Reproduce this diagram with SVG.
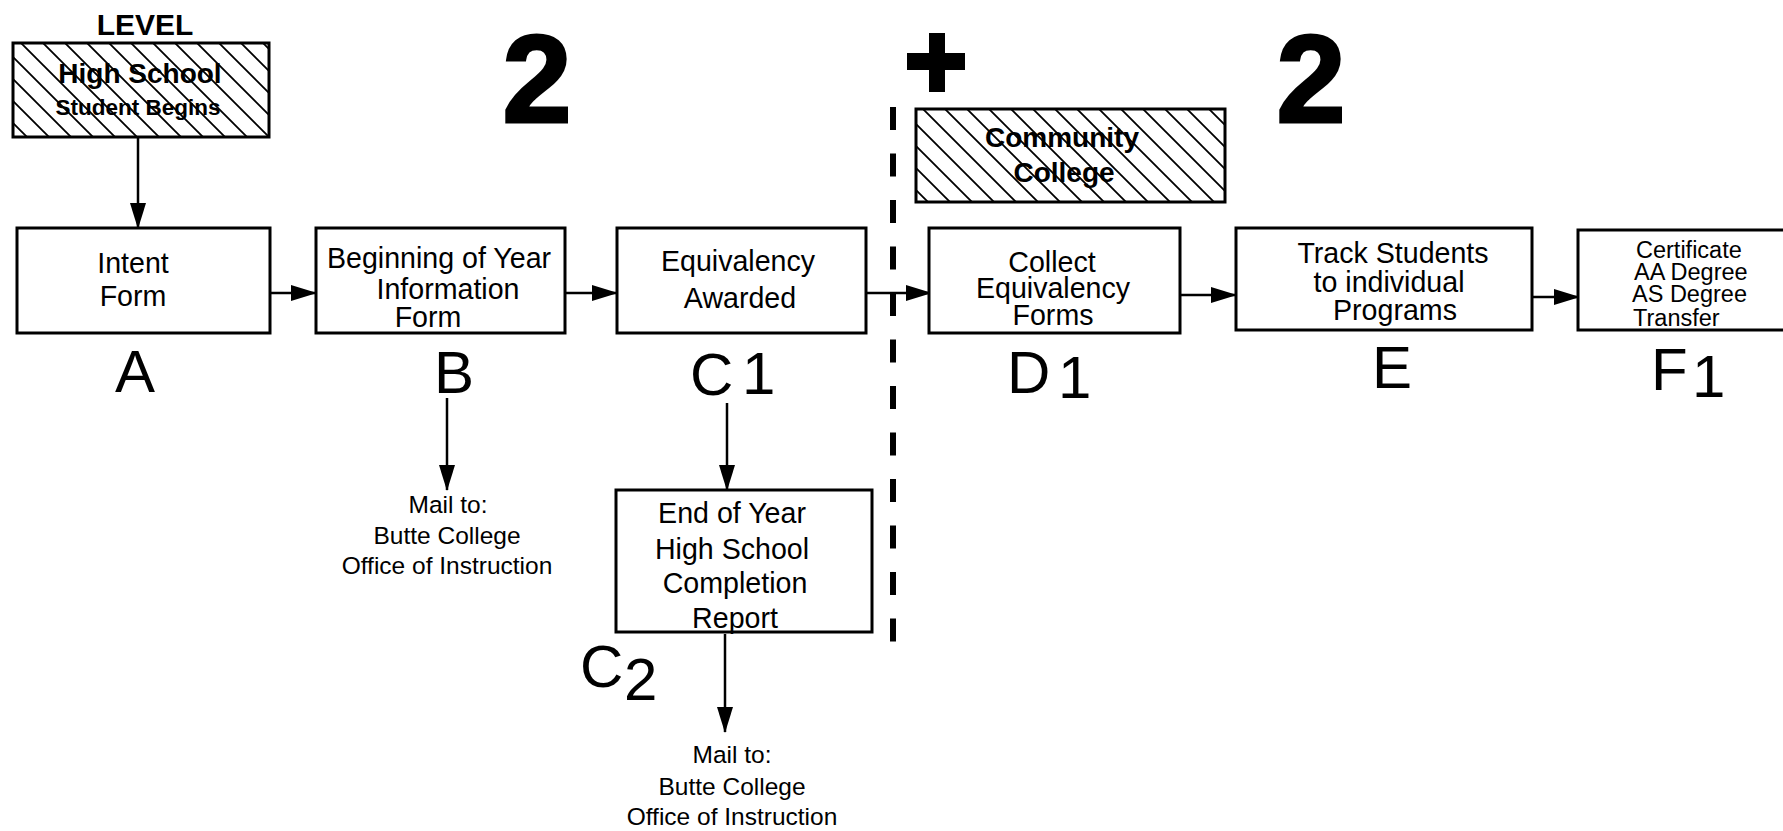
<svg xmlns="http://www.w3.org/2000/svg" width="1783" height="831" viewBox="0 0 1783 831">
<style>
  .box { fill: #fff; stroke: #000; stroke-width: 3; }
  .hbox { fill: url(#hatch); stroke: #000; stroke-width: 3; }
  .t { font-family: "Liberation Sans", Arial, sans-serif; font-size: 28.6px; fill: #000; text-anchor: middle; }
  .tb { font-family: "Liberation Sans", Arial, sans-serif; font-weight: bold; fill: #000; text-anchor: middle; }
  .s { font-family: "Liberation Sans", Arial, sans-serif; font-size: 23.5px; fill: #000; }
  .m { font-family: "Liberation Sans", Arial, sans-serif; font-size: 24.5px; fill: #000; text-anchor: middle; }
  .lbl { font-family: "Liberation Sans", Arial, sans-serif; font-size: 60px; fill: #000; }
  .big { font-family: "Liberation Sans", Arial, sans-serif; font-weight: bold; font-size: 124px; fill: #000; stroke: #000; stroke-width: 3; text-anchor: middle; }
  .conn { stroke: #000; stroke-width: 2.5; fill: none; marker-end: url(#arr); }
</style>
<defs>
  <pattern id="hatch" patternUnits="userSpaceOnUse" width="22" height="22">
    <rect width="22" height="22" fill="#fff"/>
    <path d="M-2,-2 L24,24 M-13,9 L13,35 M9,-13 L35,13" stroke="#000" stroke-width="1.8"/>
  </pattern>
  <marker id="arr" markerUnits="userSpaceOnUse" markerWidth="26" markerHeight="16" refX="25" refY="8" orient="auto">
    <path d="M0,0 L26,8 L0,16 z" fill="#000"/>
  </marker>
</defs>
<rect width="1783" height="831" fill="#fff"/>

<g id="big-labels">
  <text class="big" x="537" y="122">2</text>
  <text class="big" x="1311" y="122">2</text>
  <path d="M907,53 H965 V70 H907 Z M929,33 H945 V92 H929 Z" fill="#000"/>
</g>

<g id="divider">
  <line x1="893" y1="107" x2="893" y2="642" stroke="#000" stroke-width="6" stroke-dasharray="23 23.5"/>
</g>

<g id="connectors">
  <line class="conn" x1="138" y1="137" x2="138" y2="228"/>
  <line class="conn" x1="270" y1="293" x2="316" y2="293"/>
  <line class="conn" x1="565" y1="293" x2="617" y2="293"/>
  <line class="conn" x1="866" y1="293" x2="931" y2="293"/>
  <line class="conn" x1="1180" y1="295" x2="1236" y2="295"/>
  <line class="conn" x1="1532" y1="297" x2="1579" y2="297"/>
  <line class="conn" x1="447" y1="398" x2="447" y2="490"/>
  <line class="conn" x1="727" y1="403" x2="727" y2="490"/>
  <line class="conn" x1="725" y1="634" x2="725" y2="732"/>
</g>

<g id="hs-level">
  <text class="tb" x="145" y="35" font-size="30">LEVEL</text>
  <rect class="hbox" x="13" y="43" width="256" height="94"/>
  <text class="tb" x="140" y="83" font-size="28">High School</text>
  <text class="tb" x="138" y="115" font-size="22.5">Student Begins</text>
</g>

<g id="cc-level">
  <rect class="hbox" x="916" y="109" width="309" height="93"/>
  <text class="tb" x="1062" y="147" font-size="28">Community</text>
  <text class="tb" x="1064" y="182" font-size="28">College</text>
</g>

<g id="nodeA">
  <rect class="box" x="17" y="228" width="253" height="105"/>
  <text class="t" x="133" y="273">Intent</text>
  <text class="t" x="133" y="306">Form</text>
  <text class="lbl" x="115" y="392">A</text>
</g>

<g id="nodeB">
  <rect class="box" x="316" y="228" width="249" height="105"/>
  <text class="t" x="439" y="268">Beginning of Year</text>
  <text class="t" x="448" y="299">Information</text>
  <text class="t" x="428" y="327">Form</text>
  <text class="lbl" x="434" y="393">B</text>
</g>

<g id="mailB">
  <text class="m" x="448" y="513">Mail to:</text>
  <text class="m" x="447" y="544">Butte College</text>
  <text class="m" x="447" y="574">Office of Instruction</text>
</g>

<g id="nodeC1">
  <rect class="box" x="617" y="228" width="249" height="105"/>
  <text class="t" x="738" y="271">Equivalency</text>
  <text class="t" x="740" y="308">Awarded</text>
  <text class="lbl" x="690" y="395">C</text>
  <text class="lbl" x="742" y="394" font-size="42">1</text>
</g>

<g id="nodeC2">
  <rect class="box" x="616" y="490" width="256" height="142"/>
  <text class="t" x="732" y="523">End of Year</text>
  <text class="t" x="732" y="559">High School</text>
  <text class="t" x="735" y="593">Completion</text>
  <text class="t" x="735" y="628">Report</text>
  <text class="lbl" x="580" y="687">C</text>
  <text class="lbl" x="624" y="700" font-size="40">2</text>
</g>

<g id="mailC2">
  <text class="m" x="732" y="763">Mail to:</text>
  <text class="m" x="732" y="795">Butte College</text>
  <text class="m" x="732" y="825">Office of Instruction</text>
</g>

<g id="nodeD1">
  <rect class="box" x="929" y="228" width="251" height="105"/>
  <text class="t" x="1052" y="272">Collect</text>
  <text class="t" x="1053" y="298">Equivalency</text>
  <text class="t" x="1053" y="325">Forms</text>
  <text class="lbl" x="1007" y="393">D</text>
  <text class="lbl" x="1058" y="398" font-size="38">1</text>
</g>

<g id="nodeF1">
  <rect class="box" x="1578" y="230" width="230" height="100"/>
  <text class="s" x="1636" y="258">Certificate</text>
  <text class="s" x="1634" y="280">AA Degree</text>
  <text class="s" x="1632" y="302">AS Degree</text>
  <text class="s" x="1633" y="326">Transfer</text>
  <text class="lbl" x="1651" y="390">F</text>
  <text class="lbl" x="1692" y="397" font-size="38">1</text>
</g>

<g id="nodeE">
  <rect class="box" x="1236" y="228" width="296" height="102"/>
  <text class="t" x="1393" y="263">Track Students</text>
  <text class="t" x="1389" y="292">to individual</text>
  <text class="t" x="1395" y="320">Programs</text>
  <text class="lbl" x="1372" y="388">E</text>
</g>
</svg>
